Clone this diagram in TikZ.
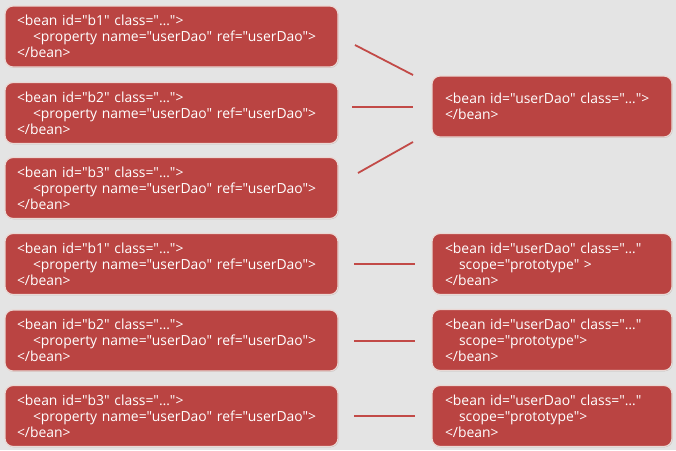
\documentclass[tikz,border=0pt]{standalone}
\usepackage{fontspec}
\setmainfont{Open Sans}[Ligatures=TeXOff]
\usetikzlibrary{shadows}
\definecolor{bg}{HTML}{E4E4E4}
\definecolor{beanred}{HTML}{BA4442}
\definecolor{rim}{HTML}{EAD8D4}
\definecolor{wire}{HTML}{C24A47}

\begin{document}
\begin{tikzpicture}[x=1pt,y=-1pt,
  bean/.style={fill=beanred, draw=rim, line width=1.2pt, rounded corners=8pt,
    text=white, font=\fontsize{13.9}{16}\selectfont, align=left,
    minimum height=61pt, inner ysep=0pt,
    drop shadow={shadow xshift=0.6pt, shadow yshift=-0.8pt, fill=black!40}},
  leftbean/.style={bean, text width=309pt, inner xsep=12pt},
  rightbean/.style={bean, text width=214pt, inner xsep=13pt},
  wire/.style={draw=wire, line width=1.8pt}]

% background
\fill[bg] (0,0) rectangle (676,450);

% singleton: three beans share one userDao
\node[leftbean] (b1) at (171.5,36.5) {<bean id="b1" class="…">\\\hspace*{16pt}<property name="userDao" ref="userDao">\\</bean>};
\node[leftbean] (b2) at (171.5,113) {<bean id="b2" class="…">\\\hspace*{16pt}<property name="userDao" ref="userDao">\\</bean>};
\node[leftbean] (b3) at (171.5,188) {<bean id="b3" class="…">\\\hspace*{16pt}<property name="userDao" ref="userDao">\\</bean>};
\node[rightbean] (ud) at (552,106.5) {<bean id="userDao" class="…">\\</bean>};

\coordinate (w1a) at (355,45);  \coordinate (w1b) at (413,75);
\coordinate (w2a) at (352,107); \coordinate (w2b) at (413,107);
\coordinate (w3a) at (358,173); \coordinate (w3b) at (413,142);
\draw[wire] (w1a) -- (w1b);
\draw[wire] (w2a) -- (w2b);
\draw[wire] (w3a) -- (w3b);

% prototype: each bean gets its own userDao
\node[leftbean] (p1) at (171.5,264) {<bean id="b1" class="…">\\\hspace*{16pt}<property name="userDao" ref="userDao">\\</bean>};
\node[leftbean] (p2) at (171.5,340.5) {<bean id="b2" class="…">\\\hspace*{16pt}<property name="userDao" ref="userDao">\\</bean>};
\node[leftbean] (p3) at (171.5,416) {<bean id="b3" class="…">\\\hspace*{16pt}<property name="userDao" ref="userDao">\\</bean>};
\node[rightbean] (u1) at (552,264) {<bean id="userDao" class="…"\\\hspace*{14pt}scope="prototype" >\\</bean>};
\node[rightbean] (u2) at (552,340) {<bean id="userDao" class="…"\\\hspace*{14pt}scope="prototype">\\</bean>};
\node[rightbean] (u3) at (552,416) {<bean id="userDao" class="…"\\\hspace*{14pt}scope="prototype">\\</bean>};

\coordinate (w4a) at (354,264); \coordinate (w4b) at (415,264);
\coordinate (w5a) at (354,341); \coordinate (w5b) at (415,341);
\coordinate (w6a) at (354,416); \coordinate (w6b) at (415,416);
\draw[wire] (w4a) -- (w4b);
\draw[wire] (w5a) -- (w5b);
\draw[wire] (w6a) -- (w6b);

\end{tikzpicture}
\end{document}
